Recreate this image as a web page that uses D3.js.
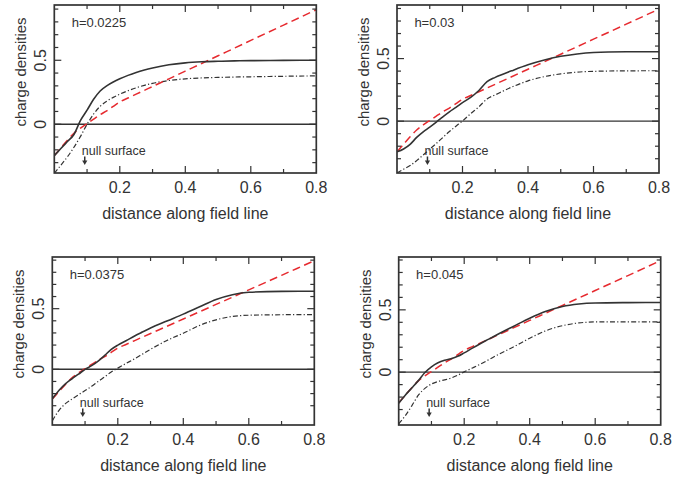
<!DOCTYPE html>
<html>
<head>
<meta charset="utf-8">
<script src="https://cdn.jsdelivr.net/npm/d3@7"></script>
<style>
	body { margin: 0; background: #fff; }
	text { font-family: "Liberation Sans", Arial, sans-serif; fill: #333; }
</style>
</head>
<body>
<svg id="chart" width="697" height="477"></svg>
<script>
// distance along field line (common sampling for all curves)
const distance = [0, 0.02, 0.04, 0.06, 0.08, 0.1, 0.12, 0.14, 0.16, 0.18, 0.2, 0.225, 0.25, 0.275, 0.3, 0.35, 0.4, 0.45, 0.5, 0.55, 0.6, 0.7, 0.8];

// red dashed curve, same in every panel
const rhoGJ = [-0.245, -0.185, -0.125, -0.07, -0.03, 0.005, 0.04, 0.075, 0.105, 0.14, 0.175, 0.205, 0.235, 0.265, 0.295, 0.355, 0.415, 0.475, 0.535, 0.595, 0.655, 0.775, 0.895];

// solid curves
const solid1 = [-0.245, -0.19, -0.135, -0.08, 0.03, 0.11, 0.195, 0.26, 0.3, 0.33, 0.355, 0.382, 0.405, 0.424, 0.44, 0.465, 0.48, 0.488, 0.492, 0.495, 0.497, 0.499, 0.5];
const solid2 = [-0.245, -0.222, -0.185, -0.13, -0.085, -0.048, -0.008, 0.035, 0.075, 0.11, 0.148, 0.19, 0.245, 0.315, 0.35, 0.402, 0.45, 0.488, 0.518, 0.537, 0.548, 0.554, 0.555];
const solid3 = [-0.242, -0.175, -0.12, -0.078, -0.04, 0.0, 0.03, 0.068, 0.115, 0.165, 0.2, 0.235, 0.273, 0.307, 0.34, 0.398, 0.455, 0.515, 0.575, 0.615, 0.635, 0.643, 0.644];
const solid4 = [-0.25, -0.185, -0.127, -0.068, -0.003, 0.043, 0.075, 0.095, 0.108, 0.127, 0.155, 0.193, 0.23, 0.265, 0.3, 0.367, 0.433, 0.488, 0.527, 0.547, 0.555, 0.558, 0.559];

// dash-dot curves
const dashDot1 = [-0.383, -0.32, -0.255, -0.18, -0.095, 0.0, 0.08, 0.14, 0.18, 0.21, 0.235, 0.262, 0.285, 0.304, 0.32, 0.342, 0.355, 0.362, 0.366, 0.369, 0.371, 0.375, 0.378];
const dashDot2 = [-0.413, -0.384, -0.355, -0.315, -0.27, -0.224, -0.178, -0.13, -0.083, -0.04, 0.002, 0.06, 0.115, 0.178, 0.21, 0.272, 0.322, 0.356, 0.378, 0.392, 0.398, 0.402, 0.403];
const dashDot3 = [-0.425, -0.34, -0.283, -0.245, -0.21, -0.175, -0.14, -0.1, -0.062, -0.022, 0.01, 0.048, 0.085, 0.125, 0.165, 0.238, 0.298, 0.362, 0.408, 0.436, 0.446, 0.45, 0.451];
const dashDot4 = [-0.415, -0.35, -0.27, -0.185, -0.13, -0.095, -0.075, -0.062, -0.047, -0.025, 0.002, 0.033, 0.065, 0.1, 0.136, 0.202, 0.272, 0.333, 0.373, 0.395, 0.403, 0.404, 0.404];

const hLabels = ["h=0.0225", "h=0.03", "h=0.0375", "h=0.045"];
const yLow = [-0.381, -0.414, -0.459, -0.424];
const yHigh = [0.932, 0.928, 0.926, 0.924];
const xTickLabels = [0.2, 0.4, 0.6, 0.8];
const yTickLabels = [0, 0.5];
const nullSurface = 0.093;

const solids = [solid1, solid2, solid3, solid4];
const dashDots = [dashDot1, dashDot2, dashDot3, dashDot4];

const PLOT_W = 262;
const PLOT_H = 168;
const ORIGINS = [[54.3, 5], [397, 5], [52.3, 257], [398.7, 257]];
const INK = "#333";
const RED = "#e62a2f";

const svg = d3.select("#chart");

function drawPanel(i) {
	const g = svg.append("g")
		.attr("transform", "translate(" + ORIGINS[i][0] + "," + ORIGINS[i][1] + ")");
	const x = d3.scaleLinear().domain([0, 0.8]).range([0, PLOT_W]);
	const y = d3.scaleLinear().domain([yLow[i], yHigh[i]]).range([PLOT_H, 0]);

	g.append("clipPath").attr("id", "clip" + i)
		.append("rect").attr("width", PLOT_W).attr("height", PLOT_H);
	const plot = g.append("g").attr("clip-path", "url(#clip" + i + ")");

	// zero line
	plot.append("line")
		.attr("x1", 0).attr("x2", PLOT_W).attr("y1", y(0)).attr("y2", y(0))
		.attr("stroke", INK).attr("stroke-width", 1.4);

	const line = d3.line()
		.x(function(d, k) { return x(distance[k]); })
		.y(function(d) { return y(d); })
		.curve(d3.curveMonotoneX);

	plot.append("path").attr("d", line(dashDots[i]))
		.attr("fill", "none").attr("stroke", INK).attr("stroke-width", 1.2)
		.attr("stroke-dasharray", "5,2.2,1.2,2.2");
	plot.append("path").attr("d", line(rhoGJ))
		.attr("fill", "none").attr("stroke", RED).attr("stroke-width", 1.5)
		.attr("stroke-dasharray", "8,4.5");
	plot.append("path").attr("d", line(solids[i]))
		.attr("fill", "none").attr("stroke", INK).attr("stroke-width", 1.6);

	// ticks on all four sides, pointing inward
	const xMinor = d3.range(0.1, 0.8, 0.1);
	const yMinor = d3.range(-0.3, 0.95, 0.1).filter(function(v) { return v > yLow[i] && v < yHigh[i]; });
	const ticks = g.append("g").attr("stroke", INK).attr("stroke-width", 1.2);
	xMinor.forEach(function(v) {
		const len = Math.abs(Math.round(v * 10) % 2) == 0 ? 7 : 4;
		ticks.append("line").attr("x1", x(v)).attr("x2", x(v)).attr("y1", PLOT_H).attr("y2", PLOT_H - len);
		ticks.append("line").attr("x1", x(v)).attr("x2", x(v)).attr("y1", 0).attr("y2", len);
	});
	yMinor.forEach(function(v) {
		const r = Math.round(v * 10);
		const len = (r % 5 == 0) ? 7 : 4;
		ticks.append("line").attr("x1", 0).attr("x2", len).attr("y1", y(r / 10)).attr("y2", y(r / 10));
		ticks.append("line").attr("x1", PLOT_W).attr("x2", PLOT_W - len).attr("y1", y(r / 10)).attr("y2", y(r / 10));
	});

	g.append("rect").attr("width", PLOT_W).attr("height", PLOT_H)
		.attr("fill", "none").attr("stroke", INK).attr("stroke-width", 1.7);

	// tick labels
	g.selectAll(".xl").data(xTickLabels).enter().append("text")
		.attr("x", function(d) { return x(d); }).attr("y", PLOT_H + 14)
		.attr("text-anchor", "middle").attr("dominant-baseline", "central")
		.attr("font-size", 16).text(function(d) { return d; });
	g.selectAll(".yl").data(yTickLabels).enter().append("text")
		.attr("transform", function(d) { return "translate(-13.6," + y(d) + ") rotate(-90)"; })
		.attr("text-anchor", "middle").attr("dominant-baseline", "central")
		.attr("font-size", 16).text(function(d) { return d; });

	// axis titles
	g.append("text").attr("x", PLOT_W / 2).attr("y", PLOT_H + 40)
		.attr("text-anchor", "middle").attr("dominant-baseline", "central")
		.attr("font-size", 16).text("distance along field line");
	g.append("text")
		.attr("transform", "translate(-33.6," + (PLOT_H / 2 - 17) + ") rotate(-90)")
		.attr("text-anchor", "middle").attr("dominant-baseline", "central")
		.attr("font-size", 15).text("charge densities");

	// annotations
	g.append("text").attr("x", 17.4).attr("y", 17)
		.attr("dominant-baseline", "central").attr("font-size", 13)
		.text(hLabels[i]);
	const ax = x(nullSurface);
	const ty = PLOT_H - 22.5;
	g.append("text").attr("x", ax - 3).attr("y", ty)
		.attr("dominant-baseline", "central").attr("font-size", 12.5)
		.text("null surface");
	g.append("line").attr("x1", ax).attr("x2", ax).attr("y1", ty + 6).attr("y2", ty + 11)
		.attr("stroke", INK).attr("stroke-width", 1.5);
	g.append("path")
		.attr("d", "M" + (ax - 2.6) + "," + (ty + 10) + "L" + (ax + 2.6) + "," + (ty + 10) + "L" + ax + "," + (ty + 14.5) + "Z")
		.attr("fill", INK);
}

for (let i = 0; i < 4; i++) {
	drawPanel(i);
}
</script>
</body>
</html>
